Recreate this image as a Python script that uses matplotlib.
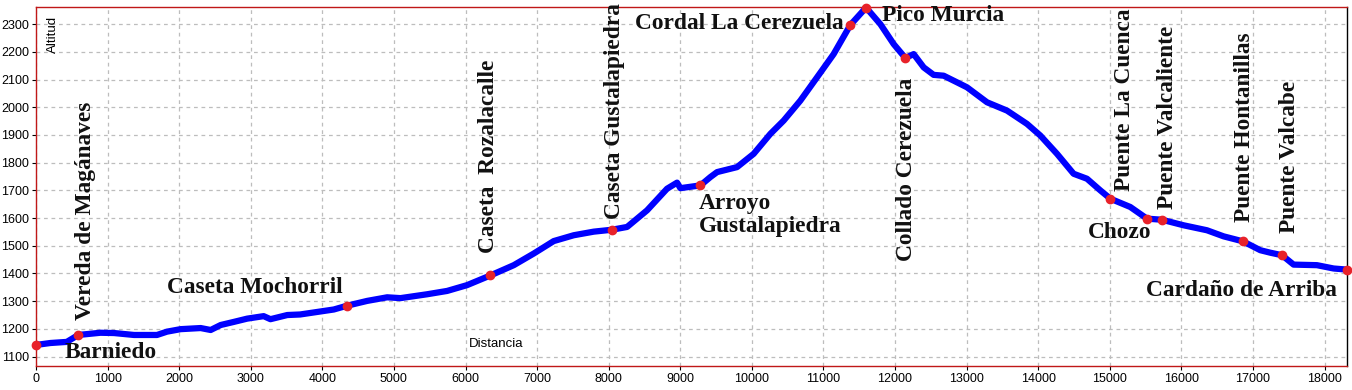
import matplotlib
matplotlib.use("Agg")
import matplotlib.pyplot as plt
import numpy as np

# elevation profile (distance in m, altitude in m)
distance = [0, 200, 430, 590, 900, 1090, 1370, 1690, 1830, 2020, 2300, 2440, 2580,
            2760, 2950, 3180, 3275, 3510, 3690, 4160, 4350, 4626, 4905, 5091, 5464,
            5743, 6022, 6348, 6674, 6953, 7232, 7511, 7791, 8047, 8257, 8536, 8815,
            8955, 9001, 9281, 9420, 9514, 9793, 10025, 10258, 10444, 10677, 10910,
            11142, 11375, 11595, 11795, 11981, 12144, 12260, 12400, 12539, 12679,
            12866, 13005, 13285, 13564, 13843, 14029, 14262, 14494, 14681, 14867,
            15007, 15286, 15519, 15729, 16030, 16357, 16590, 16860, 17102, 17242,
            17405, 17567, 17893, 18126, 18313]
altitude = [1142, 1149, 1153, 1178, 1186, 1185, 1178, 1178, 1190, 1199, 1203, 1196, 1214,
            1225, 1237, 1246, 1235, 1250, 1252, 1270, 1284, 1301, 1314, 1311, 1325,
            1337, 1358, 1393, 1430, 1472, 1517, 1538, 1551, 1558, 1568, 1628, 1706,
            1728, 1708, 1718, 1748, 1766, 1784, 1832, 1904, 1952, 2024, 2108,
            2192, 2297, 2360, 2300, 2228, 2178, 2192, 2144, 2117, 2114,
            2090, 2072, 2018, 1988, 1940, 1898, 1832, 1760, 1742, 1700,
            1670, 1640, 1598, 1594, 1574, 1556, 1534, 1516, 1484, 1475,
            1466, 1432, 1430, 1418, 1414]

# waypoints
wp_names = ["Barniedo", "Vereda de Magánaves", "Caseta Mochorril", "Caseta  Rozalacalle",
            "Caseta Gustalapiedra", "Arroyo\nGustalapiedra", "Cordal La Cerezuela",
            "Pico Murcia", "Collado Cerezuela", "Puente La Cuenca", "Chozo",
            "Puente Valcaliente", "Puente Hontanillas", "Puente Valcabe", "Cardaño de Arriba"]
wp_dist = [0, 590, 4350, 6348, 8047, 9281, 11375, 11595, 12144, 15007, 15519, 15729,
           16860, 17405, 18313]
wp_alt = [1142, 1178, 1284, 1393, 1558, 1718, 2297, 2360, 2178, 1670, 1598, 1594,
          1516, 1466, 1414]

# label placement: offset in pixels, alignment, rotation
label_style = [
    ((29, -8), "left", "center", 0),
    ((7, 15), "center", "bottom", 90),
    ((-5, 18), "right", "center", 0),
    ((-2, 22), "center", "bottom", 90),
    ((2, 11), "center", "bottom", 90),
    ((-2, -8), "left", "top", 0),
    ((-7, 2), "right", "center", 0),
    ((16, -8), "left", "center", 0),
    ((1, -20), "center", "top", 90),
    ((14, 8), "center", "bottom", 90),
    ((4, -14), "right", "center", 0),
    ((5, 11), "center", "bottom", 90),
    ((2, 19), "center", "bottom", 90),
    ((8, 22), "center", "bottom", 90),
    ((-10, -21), "right", "center", 0),
]

fig = plt.figure(figsize=(13.52, 3.9), dpi=100)
ax = fig.add_axes([36 / 1352, 24 / 390, 1311 / 1352, 359 / 390])

ax.plot(distance, altitude, color="#0000ff", lw=4.5, solid_capstyle="round",
        solid_joinstyle="round", zorder=3, clip_on=False)
ax.plot(wp_dist, wp_alt, "o", color="#e8222a", ms=6, zorder=4, clip_on=False)

for name, d, a, (off, ha, va, rot) in zip(wp_names, wp_dist, wp_alt, label_style):
    ax.annotate(name, (d, a), xytext=off, textcoords="offset pixels",
                ha=ha, va=va, rotation=rot, fontsize=16.8, fontweight="bold",
                family="Liberation Serif", color="#111111", linespacing=1.1,
                annotation_clip=False)

ax.set_xlim(0, 18313)
ax.set_ylim(1066, 2362)
ax.set_xticks(np.arange(0, 18001, 1000))
ax.set_yticks(np.arange(1100, 2301, 100))
ax.grid(True, color="#bdbdbd", ls=(0, (3, 3)), lw=0.9)
ax.set_axisbelow(True)

for side in ["left", "bottom", "top"]:
    ax.spines[side].set_color("#c01818")
ax.spines["right"].set_color("#000000")
for s in ax.spines.values():
    s.set_linewidth(1)

ax.tick_params(labelsize=9, length=3, pad=2, colors="#000000")
for lab in ax.get_xticklabels() + ax.get_yticklabels():
    lab.set_family("Liberation Sans")

ax.text(0.013, 0.975, "Altitud", transform=ax.transAxes, rotation=90,
        ha="center", va="top", fontsize=9.5, family="Liberation Sans")
ax.text(0.351, 0.061, "Distancia", transform=ax.transAxes,
        ha="center", va="center", fontsize=9.5, family="Liberation Sans")

fig.savefig("out.png", dpi=100)
